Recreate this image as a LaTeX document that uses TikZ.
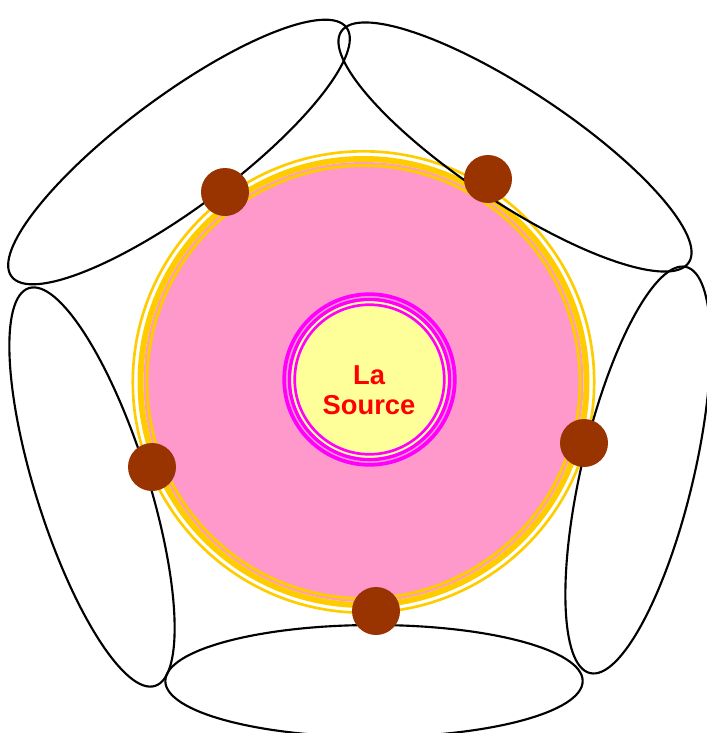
\documentclass[tikz,border=0pt]{standalone}
\usepackage{fontspec}
\setmainfont{Liberation Sans}
\usepackage{tikz}
\usetikzlibrary{shapes.geometric}
\definecolor{pinkbg}{HTML}{FF99CC}
\definecolor{ringyellow}{HTML}{FFCC00}
\definecolor{coreyellow}{HTML}{FFFF99}
\definecolor{ringmagenta}{HTML}{FF00FF}
\definecolor{seedbrown}{HTML}{993300}

\begin{document}
\begin{tikzpicture}[x=0.75pt, y=-0.75pt,
  petal/.style={draw, ellipse, line width=1.6pt, minimum width=313pt, minimum height=84pt, inner sep=0pt},
  seed/.style={circle, fill=seedbrown, minimum size=36pt, inner sep=0pt},
  yring/.style={ringyellow, line width=#1},
  mring/.style={ringmagenta, line width=#1}
]
  \useasboundingbox (0,0) rectangle (707,733);

  \coordinate (disc) at (363.5,382);
  \coordinate (core) at (369.5,379.5);

  \fill[white] (disc) circle[radius=229];
  \fill[pinkbg] (disc) circle[radius=220];
  \draw[yring=2pt] (disc) circle[radius=230.7];
  \draw[yring=4.5pt] (disc) circle[radius=223];
  \draw[yring=2.2pt] (disc) circle[radius=216.5];

  \fill[coreyellow] (core) circle[radius=78.5];
  \draw[mring=2.8pt] (core) circle[radius=85.3];
  \draw[mring=2.5pt] (core) circle[radius=80.1];
  \draw[mring=2pt] (core) circle[radius=74.8];
  \node[font=\bfseries\fontsize{20.5}{22.5}\selectfont, text=red, align=center] (source) at (369,390) {La\\Source};

  \node[petal] (pbottom) at (374,681) {};
  \node[petal, rotate=76.7] (pright) at (638,470) {};
  \node[petal, rotate=-33.6] (ptopright) at (515,147) {};
  \node[petal, rotate=36.6] (ptopleft) at (179,152) {};
  \node[petal, rotate=-72.4] (pleft) at (92,487) {};

  \node[seed] (s1) at (225,192) {};
  \node[seed] (s2) at (488,179) {};
  \node[seed] (s3) at (584,443) {};
  \node[seed] (s4) at (376,611) {};
  \node[seed] (s5) at (152,467) {};
\end{tikzpicture}
\end{document}
